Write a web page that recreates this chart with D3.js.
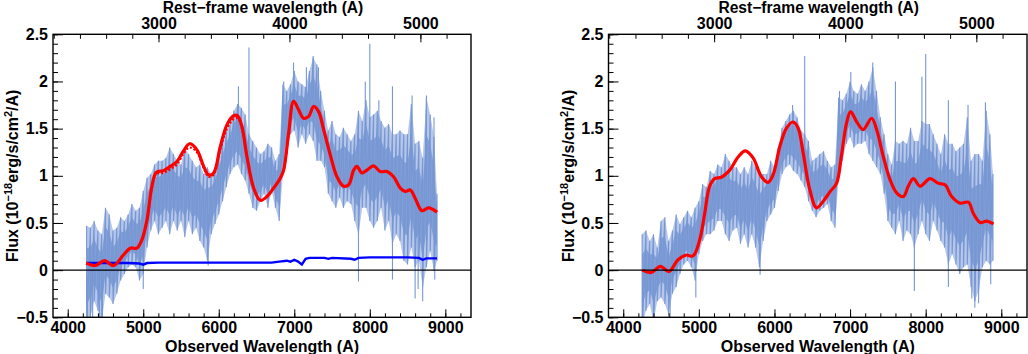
<!DOCTYPE html>
<html lang="en">
<head>
<meta charset="UTF-8">
<script src="https://cdn.jsdelivr.net/npm/d3@7"></script>
<style>
body { margin: 0; background: #fff; }
svg text { font-family: "Liberation Sans", Arial, Helvetica, sans-serif; font-weight: bold; fill: #000; }
.axis path { display: none; }
.axis line { stroke: #000; stroke-width: 1; }
</style>
</head>
<body>
<svg width="1028" height="354"></svg>
<script>

// observed wavelength grid of the spectrum band (A)
const WL = [4250,4300,4350,4400,4450,4500,4550,4600,4650,4700,4750,4800,4850,4900,4950,
  5000,5050,5100,5150,5200,5250,5300,5350,5400,5450,5500,5550,5600,5650,5700,5750,5800,5850,5900,5950,
  6000,6050,6100,6150,6200,6250,6300,6350,6400,6450,6500,6550,6600,6650,6700,6750,6800,6850,6900,6950,
  7000,7050,7100,7150,7200,7250,7300,7350,7400,7450,7500,7550,7600,7650,7700,7750,7800,7850,7900,7950,
  8000,8050,8100,8150,8200,8250,8300,8350,8400,8450,8500,8550,8600,8650,8700,8750,8800,8850,8890];

// left panel: upper / lower edge of the noisy spectrum
const L_HI = [0.47,0.45,0.52,0.42,0.38,0.66,0.59,0.42,0.45,0.56,0.52,0.59,0.70,0.63,0.66,
  0.84,0.98,1.02,1.12,1.16,1.16,1.19,1.30,1.23,1.16,1.12,1.30,1.23,1.16,1.09,1.12,1.02,1.09,1.02,1.09,
  1.23,1.37,1.48,1.55,1.69,1.76,1.72,1.65,1.44,1.37,1.30,1.23,1.26,1.34,1.30,1.16,1.23,1.97,1.90,1.97,
  2.11,2.00,1.97,1.94,2.11,2.25,2.18,1.90,1.69,1.48,1.58,1.44,1.41,1.51,1.44,1.37,1.44,1.69,1.58,1.80,
  1.62,1.65,1.69,1.58,1.51,1.55,1.44,1.44,1.48,1.44,1.44,1.76,1.34,1.37,1.19,1.83,1.65,1.41,0.81];
const L_LO = [-0.6,-0.5,-0.33,-0.43,-0.55,-0.25,-0.29,-0.36,-0.25,-0.11,-0.04,0.03,0.06,0.03,-0.11,
  -0.04,0.24,0.42,0.52,0.38,0.45,0.52,0.38,0.52,0.42,0.52,0.35,0.52,0.38,0.45,0.31,0.24,0.10,0.38,0.49,
  0.59,0.73,0.88,1.02,1.09,1.12,1.02,0.95,0.81,0.66,0.63,0.73,0.81,0.66,0.84,0.66,0.52,1.02,1.23,1.44,
  1.48,1.30,1.44,1.34,1.44,1.37,1.16,1.16,1.09,0.81,0.73,0.66,0.77,0.66,0.73,0.70,0.52,0.38,0.66,0.66,
  0.52,0.45,0.52,0.66,0.42,0.52,0.28,0.38,0.31,0.10,0.06,0.24,0.03,0.10,-0.18,0.03,0.20,-0.01,0.10];

// right panel: upper / lower edge of the noisy spectrum
const R_HI = [0.38,0.42,0.31,0.38,0.24,0.52,0.56,0.31,0.42,0.59,0.49,0.56,0.63,0.56,0.66,
  0.73,0.91,0.88,1.05,1.02,1.12,1.09,1.23,1.16,1.09,1.09,1.02,1.09,1.02,1.16,1.09,1.02,1.02,1.02,1.16,
  1.09,1.30,1.51,1.58,1.65,1.69,1.62,1.48,1.44,1.37,1.16,1.19,1.23,1.26,1.16,1.09,1.12,1.83,1.80,1.87,
  2.00,1.90,1.87,1.97,1.90,2.00,2.15,1.90,1.62,1.44,1.23,1.12,1.37,1.34,1.37,1.34,1.51,1.37,1.37,1.58,
  1.55,1.55,1.44,1.34,1.23,1.44,1.34,1.34,1.26,1.30,1.34,1.62,1.16,1.23,1.23,1.16,1.69,1.44,1.02];
const R_LO = [-0.6,-0.43,-0.36,-0.55,-0.33,-0.29,-0.36,-0.47,-0.25,-0.18,-0.04,0.06,0.10,0.03,-0.11,
  0.17,0.31,0.38,0.38,0.42,0.52,0.52,0.38,0.31,0.42,0.45,0.28,0.38,0.24,0.38,0.24,0.03,0.31,0.52,0.59,
  0.66,0.84,1.02,1.09,1.12,1.05,1.02,0.95,0.88,0.73,0.63,0.56,0.63,0.66,0.70,0.52,0.45,0.98,1.16,1.34,
  1.41,1.30,1.34,1.34,1.37,1.23,1.16,1.09,1.02,0.81,0.52,0.45,0.38,0.52,0.31,0.42,0.38,0.24,0.38,0.52,
  0.38,0.31,0.52,0.42,0.31,0.24,0.06,0.17,0.06,-0.04,0.03,0.06,-0.18,-0.33,-0.22,0.03,0.10,0.06,0.10];

// single pixels that stick out of the band
const L_SPIKE_WL  = [6400,8000,7250,6990,7160,8300,8560,8750,6260,6860,7320,7940,8850,8120,
  4260,4330,4420,4460,5000,5860,7850,8300,8600,8640,8700,8860];
const L_SPIKE_TIP = [2.36,2.40,2.27,2.20,2.15,1.95,1.85,1.85,1.95,2.00,2.15,2.00,1.62,1.80,
  -0.6,-0.6,-0.6,-0.55,-0.20,0.05,-0.12,-0.10,-0.30,-0.20,-0.33,-0.10];
const R_SPIKE_WL  = [6400,8000,7950,7600,7300,7010,8300,8560,8790,6240,6860,
  4260,4400,4620,4960,5810,7850,8300,8650,8700,8610,8860];
const R_SPIKE_TIP = [2.27,2.29,2.05,2.00,2.20,2.10,1.80,1.75,1.78,1.75,1.90,
  -0.6,-0.6,-0.55,-0.29,-0.05,-0.22,-0.18,-0.40,-0.35,-0.30,-0.15];

// left panel: model fit (solid), second model (dotted), blue host level
const L_FIT_WL = [4245,4364,4488,4607,4740,4828,4916,4982,5049,5115,5172,5269,5358,5446,5530,5614,
  5711,5800,5865,5932,6020,6108,6197,6250,6307,6374,6462,6550,6638,6726,6815,6859,6925,6991,7057,
  7124,7190,7256,7322,7389,7477,7565,7653,7720,7786,7830,7896,7962,8050,8139,8227,8315,8404,8470,
  8536,8602,8690,8779,8890];
const L_FIT = [0.074,0.049,0.10,0.049,0.163,0.233,0.233,0.32,0.53,0.89,1.035,1.055,1.10,1.15,1.26,1.34,
  1.275,1.10,1.01,1.03,1.31,1.54,1.636,1.636,1.52,1.20,0.87,0.74,0.78,0.87,0.975,1.06,1.45,1.79,1.70,
  1.61,1.63,1.735,1.68,1.49,1.22,0.99,0.89,0.905,1.06,1.10,1.03,1.06,1.105,1.045,1.045,0.99,0.87,0.835,
  0.85,0.76,0.63,0.66,0.615];
const L_DOT = [0.074,0.049,0.10,0.049,0.163,0.233,0.233,0.32,0.52,0.87,1.02,1.03,1.07,1.12,1.23,1.30,
  1.25,1.08,0.99,1.01,1.28,1.50,1.60,1.61,1.50,1.20,0.87,0.74,0.78,0.87,0.975,1.06,1.45,1.79,1.70,
  1.61,1.63,1.735,1.68,1.49,1.22,0.99,0.89,0.905,1.06,1.10,1.03,1.06,1.105,1.045,1.045,0.99,0.87,0.835,
  0.85,0.76,0.63,0.66,0.615];
const L_HOST_WL = [4250,4500,4800,4950,5000,5050,5200,5500,6000,6500,6700,6800,6900,6950,7000,7050,
  7100,7150,7200,7400,7450,7500,7750,7800,7850,8000,8500,8650,8700,8750,8890];
const L_HOST = [0.075,0.075,0.075,0.07,0.058,0.075,0.08,0.08,0.08,0.08,0.08,0.09,0.10,0.09,0.11,0.09,
  0.06,0.12,0.13,0.13,0.12,0.13,0.12,0.11,0.13,0.135,0.135,0.13,0.11,0.125,0.125];

// right panel: host-subtracted model fit
const R_FIT_WL = [4252,4371,4490,4605,4724,4834,4923,5011,5077,5143,5210,5298,5408,5519,5616,5717,
  5828,5916,5982,6071,6159,6247,6313,6380,6468,6556,6645,6733,6821,6887,6954,7007,7086,7174,7285,
  7351,7439,7528,7616,7704,7770,7837,7925,8057,8168,8256,8344,8455,8565,8631,8720,8808,8896];
const R_FIT = [0.0,-0.025,0.04,-0.015,0.11,0.16,0.15,0.32,0.60,0.89,0.97,0.985,1.06,1.20,1.265,1.19,
  0.99,0.93,1.01,1.31,1.505,1.57,1.505,1.24,0.85,0.66,0.73,0.83,0.92,1.22,1.56,1.68,1.575,1.49,1.61,
  1.49,1.205,0.96,0.82,0.78,0.89,0.97,0.89,0.97,0.92,0.905,0.78,0.71,0.72,0.60,0.505,0.52,0.49];

// axis ticks
const Y_MAJOR = [-0.5,0,0.5,1,1.5,2,2.5];
const X_MAJOR = [4000,5000,6000,7000,8000,9000];
const REST_MAJOR = [3000,4000,5000];
const ONE_PLUS_Z = 1.734;

const svg = d3.select("svg");
const yTop = 34.3, yBot = 317.3;
const bandColor = "#7797d3", lightColor = "#b6c7ea";

const panels = [
  {x0: 53, x1: 471, hi: L_HI, lo: L_LO, sw: L_SPIKE_WL, st: L_SPIKE_TIP,
   fitWl: L_FIT_WL, fit: L_FIT, dot: L_DOT, hostWl: L_HOST_WL, host: L_HOST},
  {x0: 608.5, x1: 1027, hi: R_HI, lo: R_LO, sw: R_SPIKE_WL, st: R_SPIKE_TIP,
   fitWl: R_FIT_WL, fit: R_FIT}
];

panels.forEach(function(p, k) {
  var x = d3.scaleLinear().domain([3805, 9340]).range([p.x0, p.x1]);
  var xr = d3.scaleLinear().domain([3805 / ONE_PLUS_Z, 9340 / ONE_PLUS_Z]).range([p.x0, p.x1]);
  var y = d3.scaleLinear().domain([-0.5, 2.5]).range([yBot, yTop]);
  var g = svg.append("g");

  g.append("clipPath").attr("id", "clip" + k)
    .append("rect").attr("x", p.x0).attr("y", yTop).attr("width", p.x1 - p.x0).attr("height", yBot - yTop);
  var plot = g.append("g").attr("clip-path", "url(#clip" + k + ")");

  // light envelope of the spectrum, denser core inside it
  var area = d3.area()
    .x(function(d, i) { return x(WL[i]); })
    .y0(function(d, i) { return y(p.lo[i]); })
    .y1(function(d, i) { return y(p.hi[i]); });
  plot.append("path").datum(WL).attr("d", area).attr("fill", lightColor);
  var core = d3.area()
    .x(function(d, i) { return x(WL[i]); })
    .y0(function(d, i) { return y(p.lo[i] + 0.22 * (p.hi[i] - p.lo[i])); })
    .y1(function(d, i) { return y(p.hi[i] - 0.22 * (p.hi[i] - p.lo[i])); });
  plot.append("path").datum(WL).attr("d", core).attr("fill", bandColor).attr("opacity", 0.85);

  // single outliers
  plot.selectAll("line.spike").data(p.sw).enter().append("line")
    .attr("class", "spike")
    .attr("x1", function(d) { return x(d); }).attr("x2", function(d) { return x(d); })
    .attr("y1", function(d) {
      var i = Math.max(0, Math.min(WL.length - 1, Math.round((d - WL[0]) / 50)));
      return y((p.hi[i] + p.lo[i]) / 2);
    })
    .attr("y2", function(d, i) { return y(p.st[i]); })
    .attr("stroke", bandColor).attr("stroke-width", 1.1);

  // noisy spectrum: up-down strokes through the read extremes
  var zig = [];
  WL.forEach(function(w, i) { zig.push([w, p.hi[i]], [w, p.lo[i]]); });
  plot.append("path").datum(zig)
    .attr("d", d3.line().x(function(d) { return x(d[0]); }).y(function(d) { return y(d[1]); }))
    .attr("fill", "none").attr("stroke", bandColor).attr("stroke-width", 1.1)
    .attr("stroke-linejoin", "bevel");

  // zero line
  g.append("line").attr("x1", p.x0).attr("x2", p.x1).attr("y1", y(0)).attr("y2", y(0))
    .attr("stroke", "#000").attr("stroke-width", 1.2);

  var smooth = d3.line().curve(d3.curveCatmullRom)
    .x(function(d) { return x(d[0]); }).y(function(d) { return y(d[1]); });
  var straight = d3.line()
    .x(function(d) { return x(d[0]); }).y(function(d) { return y(d[1]); });

  if (p.host) {
    plot.append("path").datum(d3.zip(p.hostWl, p.host)).attr("d", straight)
      .attr("fill", "none").attr("stroke", "#0000ff").attr("stroke-width", 2.4);
  }
  if (p.dot) {
    plot.append("path").datum(d3.zip(p.fitWl, p.dot)).attr("d", smooth)
      .attr("fill", "none").attr("stroke", "#ff0000").attr("stroke-width", 2.2)
      .attr("stroke-dasharray", "2,2");
  }
  plot.append("path").datum(d3.zip(p.fitWl, p.fit)).attr("d", smooth)
    .attr("fill", "none").attr("stroke", "#ff0000").attr("stroke-width", 3.2);

  // axes (ROOT style, ticks inside)
  var fmt = d3.format("~g");
  g.append("g").attr("class", "axis").attr("transform", "translate(0," + yBot + ")")
    .call(d3.axisBottom(x).tickValues(d3.range(4000, 9400, 200)).tickSize(-4).tickFormat(""));
  g.append("g").attr("class", "axis").attr("transform", "translate(0," + yBot + ")")
    .call(d3.axisBottom(x).tickValues(X_MAJOR).tickSize(-8).tickPadding(4).tickFormat(fmt))
    .selectAll("text").style("font-size", "16px");

  g.append("g").attr("class", "axis").attr("transform", "translate(0," + yTop + ")")
    .call(d3.axisTop(xr).tickValues(d3.range(2200, 5400, 200).filter(function(v) { return xr(v) >= p.x0 && xr(v) <= p.x1; }))
      .tickSize(-4.5).tickFormat(""));
  g.append("g").attr("class", "axis").attr("transform", "translate(0," + yTop + ")")
    .call(d3.axisTop(xr).tickValues(REST_MAJOR).tickSize(-8).tickPadding(5).tickFormat(fmt))
    .selectAll("text").style("font-size", "16px");

  g.append("g").attr("class", "axis").attr("transform", "translate(" + p.x0 + ",0)")
    .call(d3.axisLeft(y).tickValues(d3.range(-5, 26).map(function(v) { return v / 10; })).tickSize(-5).tickFormat(""));
  g.append("g").attr("class", "axis").attr("transform", "translate(" + p.x0 + ",0)")
    .call(d3.axisLeft(y).tickValues(Y_MAJOR).tickSize(-10).tickPadding(5).tickFormat(fmt))
    .selectAll("text").style("font-size", "16px");

  g.append("rect").attr("x", p.x0).attr("y", yTop).attr("width", p.x1 - p.x0).attr("height", yBot - yTop)
    .attr("fill", "none").attr("stroke", "#000").attr("stroke-width", 1.4);

  var cx = (p.x0 + p.x1) / 2;
  g.append("text").attr("x", cx + 1).attr("y", 13.2).attr("text-anchor", "middle")
    .style("font-size", "15.6px").text("Rest\u2212frame wavelength (A)");
  g.append("text").attr("x", cx).attr("y", 351.5).attr("text-anchor", "middle")
    .style("font-size", "16px").text("Observed Wavelength (A)");

  var yt = g.append("text").attr("text-anchor", "middle").style("font-size", "16px")
    .attr("transform", "translate(" + (p.x0 - 35) + "," + ((yTop + yBot) / 2) + ") rotate(-90)");
  yt.append("tspan").text("Flux (10");
  yt.append("tspan").attr("dy", -6).style("font-size", "11px").text("\u221218");
  yt.append("tspan").attr("dy", 6).text("erg/s/cm");
  yt.append("tspan").attr("dy", -6).style("font-size", "11px").text("2");
  yt.append("tspan").attr("dy", 6).text("/A)");
});

</script>
</body>
</html>
